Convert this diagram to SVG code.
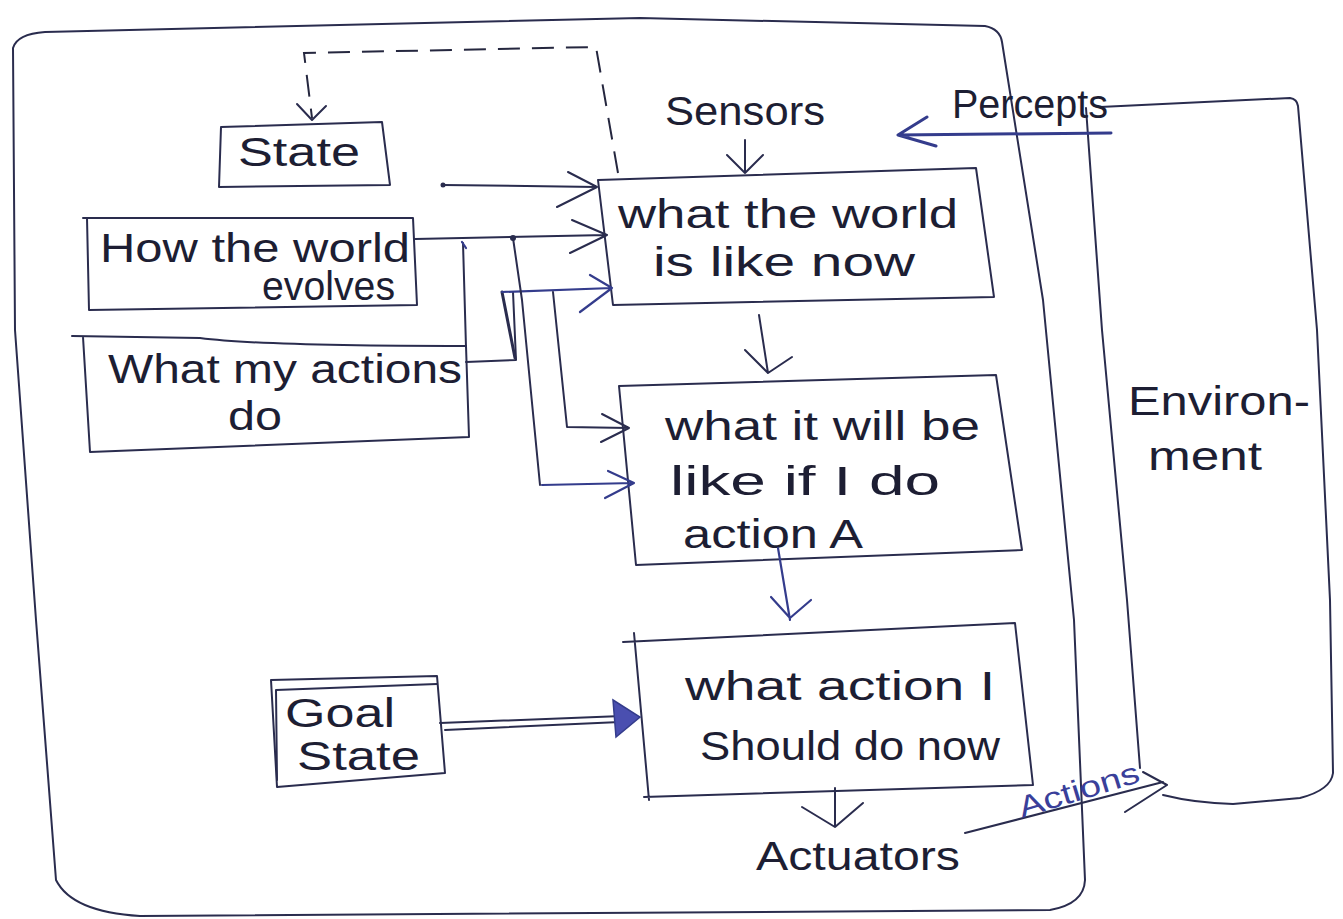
<svg xmlns="http://www.w3.org/2000/svg" width="1343" height="919" viewBox="0 0 1343 919">
  <defs>
    <style>
      .ink { fill: none; stroke: #2a2c4e; stroke-width: 2; stroke-linecap: round; stroke-linejoin: round; }
      .blue { fill: none; stroke: #343c8c; stroke-width: 2.2; stroke-linecap: round; stroke-linejoin: round; }
      .dash { fill: none; stroke: #25273f; stroke-width: 2; stroke-dasharray: 22 12; }
      .hand { font-family: "Liberation Sans", Arial, sans-serif; font-size: 40px; fill: #1d1e33; }
      .small { font-size: 30px; fill: #3a3f9a; }
      .dot { fill: #2a2c4e; }
    </style>
  </defs>

  <rect x="0" y="0" width="1343" height="919" fill="#ffffff"/>

  <!-- agent frame -->
  <g id="agent">
    <path class="ink" d="M13,48 Q17,34 45,32 L640,18 L985,26 Q1000,29 1002,42 L1043,300 L1074,620 L1085,880 Q1084,904 1050,910 L140,916 Q72,912 56,880 L36,620 L15,330 Z"/>
  </g>

  <!-- environment -->
  <g id="environment">
    <path class="ink" d="M1100,107 L1290,98 Q1297,99 1298,106 L1317,330 L1330,600 L1333,773 Q1331,790 1300,798 L1233,804 Q1195,803 1163,795"/>
    <path class="ink" d="M1086,108 L1102,330 L1127,600 L1140,768"/>
    <text class="hand" x="1128" y="415" textLength="182" lengthAdjust="spacingAndGlyphs">Environ-</text>
    <text class="hand" x="1148" y="470" textLength="114" lengthAdjust="spacingAndGlyphs">ment</text>
  </g>

  <!-- state -->
  <g id="state">
    <path class="ink" d="M221,127 L382,122 L390,185 L219,187 Z"/>
    <text class="hand" x="238" y="166" textLength="122" lengthAdjust="spacingAndGlyphs">State</text>
  </g>

  <!-- how the world evolves -->
  <g id="world-evolves">
    <path class="ink" d="M83,218 L413,218 L417,305 L89,310 L87,218"/>
    <text class="hand" x="100" y="262" textLength="310" lengthAdjust="spacingAndGlyphs">How the world</text>
    <text class="hand" x="262" y="300" textLength="133" lengthAdjust="spacingAndGlyphs">evolves</text>
  </g>

  <!-- what my actions do -->
  <g id="actions-do">
    <path class="ink" d="M72,336 L200,338 Q260,346 466,346 L469,437 L90,452 L83,337"/>
    <text class="hand" x="108" y="383" textLength="354" lengthAdjust="spacingAndGlyphs">What my actions</text>
    <text class="hand" x="228" y="430" textLength="54" lengthAdjust="spacingAndGlyphs">do</text>
  </g>

  <!-- what the world is like now -->
  <g id="world-now">
    <path class="ink" d="M598,180 L976,168 L994,297 L613,305 Z"/>
    <text class="hand" x="618" y="228" textLength="340" lengthAdjust="spacingAndGlyphs">what the world</text>
    <text class="hand" x="653" y="276" textLength="262" lengthAdjust="spacingAndGlyphs">is like now</text>
  </g>

  <!-- what it will be like if I do action A -->
  <g id="world-after-action">
    <path class="ink" d="M619,386 L996,375 L1022,550 L636,565 Z"/>
    <text class="hand" x="665" y="440" textLength="315" lengthAdjust="spacingAndGlyphs">what it will be</text>
    <text class="hand" x="670" y="495" textLength="270" lengthAdjust="spacingAndGlyphs">like if I do</text>
    <text class="hand" x="683" y="548" textLength="180" lengthAdjust="spacingAndGlyphs">action A</text>
  </g>

  <!-- what action I should do now -->
  <g id="action-now">
    <path class="ink" d="M623,642 L1015,623 L1033,785 L644,797 M634,633 L649,800"/>
    <text class="hand" x="685" y="700" textLength="310" lengthAdjust="spacingAndGlyphs">what action I</text>
    <text class="hand" x="700" y="760" textLength="300" lengthAdjust="spacingAndGlyphs">Should do now</text>
  </g>

  <!-- goal state -->
  <g id="goal-state">
    <path class="ink" d="M271,680 L437,676 L445,773 L277,787 Z"/>
    <path class="ink" d="M277,780 L276,690 L437,684"/>
    <text class="hand" x="285" y="727" textLength="110" lengthAdjust="spacingAndGlyphs">Goal</text>
    <text class="hand" x="297" y="770" textLength="123" lengthAdjust="spacingAndGlyphs">State</text>
  </g>

  <!-- side labels -->
  <g id="sensors">
    <text class="hand" x="665" y="125" textLength="160" lengthAdjust="spacingAndGlyphs">Sensors</text>
  </g>
  <g id="percepts">
    <text class="hand" x="952" y="118" textLength="156" lengthAdjust="spacingAndGlyphs">Percepts</text>
  </g>
  <g id="actuators">
    <text class="hand" x="756" y="870" textLength="204" lengthAdjust="spacingAndGlyphs">Actuators</text>
  </g>

  <!-- connectors -->
  <g id="connectors">
    <!-- state feedback (dashed) -->
    <path class="dash" d="M618,173 L596,47 L304,53 L312,118"/>
    <path class="ink" d="M297,104 L312,120 L326,106"/>

    <!-- state to world-now -->
    <circle class="dot" cx="443" cy="185" r="2.5"/>
    <path class="ink" d="M443,185 L597,187 M568,172 L597,187 L557,207"/>

    <!-- evolves to world-now -->
    <path class="ink" d="M415,239 L607,235 M572,220 L607,235 L570,253"/>
    <circle class="dot" cx="513" cy="238" r="3"/>

    <!-- actions box tie to evolves line -->
    <path class="ink" d="M463,243 L466,347"/>
    <path class="blue" d="M462,242 L466,248"/>

    <!-- actions to world-now -->
    <path class="ink" d="M466,362 L516,360 L513,292"/>
    <path class="ink" style="stroke-width:3" d="M502,292 L515,358"/>
    <path class="blue" d="M502,292 L612,288 M590,275 L612,288 L580,312"/>

    <!-- evolves to world-after-action -->
    <path class="ink" d="M513,238 L522,300 L540,485"/>
    <path class="blue" d="M542,485 L634,483 M608,471 L634,483 L605,498"/>

    <!-- actions to world-after-action -->
    <path class="ink" d="M553,292 L567,427 L629,428 M602,414 L629,428 L601,442"/>

    <!-- sensors -->
    <path class="ink" d="M745,140 L745,173 M727,155 L745,173 L763,155"/>

    <!-- percepts -->
    <path class="blue" style="stroke-width:3" d="M1111,133 L898,135 M927,117 L898,135 L936,146"/>

    <!-- world-now to world-after-action -->
    <path class="ink" d="M759,315 L768,373 M745,350 L768,373 L792,357"/>

    <!-- world-after-action to action-now -->
    <path class="blue" d="M778,548 L790,620 M771,597 L790,618 L811,600"/>

    <!-- goal to action-now -->
    <path class="ink" d="M440,723 L622,716 M445,730 L620,722"/>
    <path d="M613,700 L640,717 L616,737 Z" fill="#4a4fb0" stroke="#343c8c" stroke-width="1.5"/>

    <!-- action-now to actuators -->
    <path class="ink" d="M835,788 L835,827 M802,807 L835,827 L863,803"/>

    <!-- actions to environment -->
    <path class="ink" d="M965,833 L1163,782 M1143,772 L1167,785 L1125,812"/>
    <text class="hand small" x="1022" y="818" textLength="125" lengthAdjust="spacingAndGlyphs" transform="rotate(-17 1022 818)">Actions</text>
  </g>
</svg>
